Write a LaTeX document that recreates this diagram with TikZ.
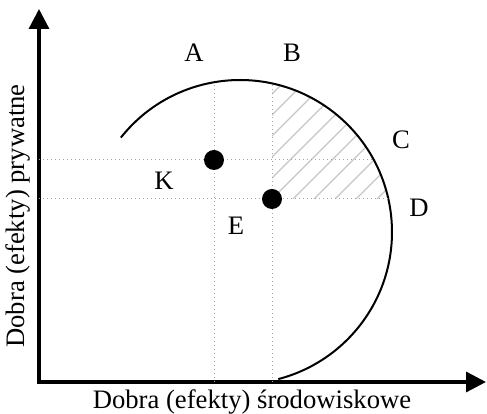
\documentclass[tikz,border=0pt]{standalone}
\usepackage{fontspec}
\setmainfont{Liberation Serif}
\usetikzlibrary{arrows.meta}

\begin{document}
\begin{tikzpicture}[
      x=0.75pt, y=0.75pt,
      axis/.style={
        line width=2.5pt,
        {Triangle[length=15pt, width=15pt]}-{Triangle[length=15pt, width=15pt]}
      },
      guide/.style={
        draw=gray!70, line width=0.75pt, dash pattern=on 0.75pt off 2.25pt
      },
      hatch/.style={draw=gray!45, line width=1pt},
      curve/.style={line width=1.5pt},
      dot/.style={circle, fill=black, inner sep=0pt, minimum size=15pt},
      lbl/.style={font=\fontsize{20}{24}\selectfont, inner sep=0pt}
    ]

    \useasboundingbox (0,0) rectangle (487,414);

    % --- Axes ---
    \coordinate (O)    at (39,32);
    \coordinate (ytip) at (39,405);
    \coordinate (xtip) at (486,32);
    \draw[axis] (ytip) -- (O) -- (xtip);

    % --- Hatched area ---
    \begin{scope}
      \clip (272,215) rectangle (400,345);
      \clip (240,182) circle[radius=152];
      \foreach \k in {-8,...,6}
        \draw[hatch] ({272+\k*21},215) -- ++(140,140);
    \end{scope}

    % --- Curve ---
    \draw[curve] (240,182) ++(141.6:152)
      arc[start angle=141.6, end angle=-75.4, radius=152];

    % --- Guide lines ---
    \draw[guide] (214,32) -- (214,331.8);
    \draw[guide] (272,32) -- (272,330.6);
    \draw[guide] (39,254) -- (374,254);
    \draw[guide] (39,215) -- (388,215);

    % --- Points ---
    \node[dot] (pK) at (214,254) {};
    \node[dot] (pE) at (272,215) {};

    % --- Letters ---
    \node[lbl] (A) at (194,361) {A};
    \node[lbl] (B) at (292,361) {B};
    \node[lbl] (C) at (401,274) {C};
    \node[lbl] (D) at (419,206) {D};
    \node[lbl] (K) at (164,233) {K};
    \node[lbl] (E) at (236,188) {E};

    % --- Axis titles ---
    \node[lbl, rotate=90] (ylab) at (18,198) {Dobra (efekty) prywatne};
    \node[lbl] (xlab) at (252,12) {Dobra (efekty) środowiskowe};

\end{tikzpicture}
\end{document}
